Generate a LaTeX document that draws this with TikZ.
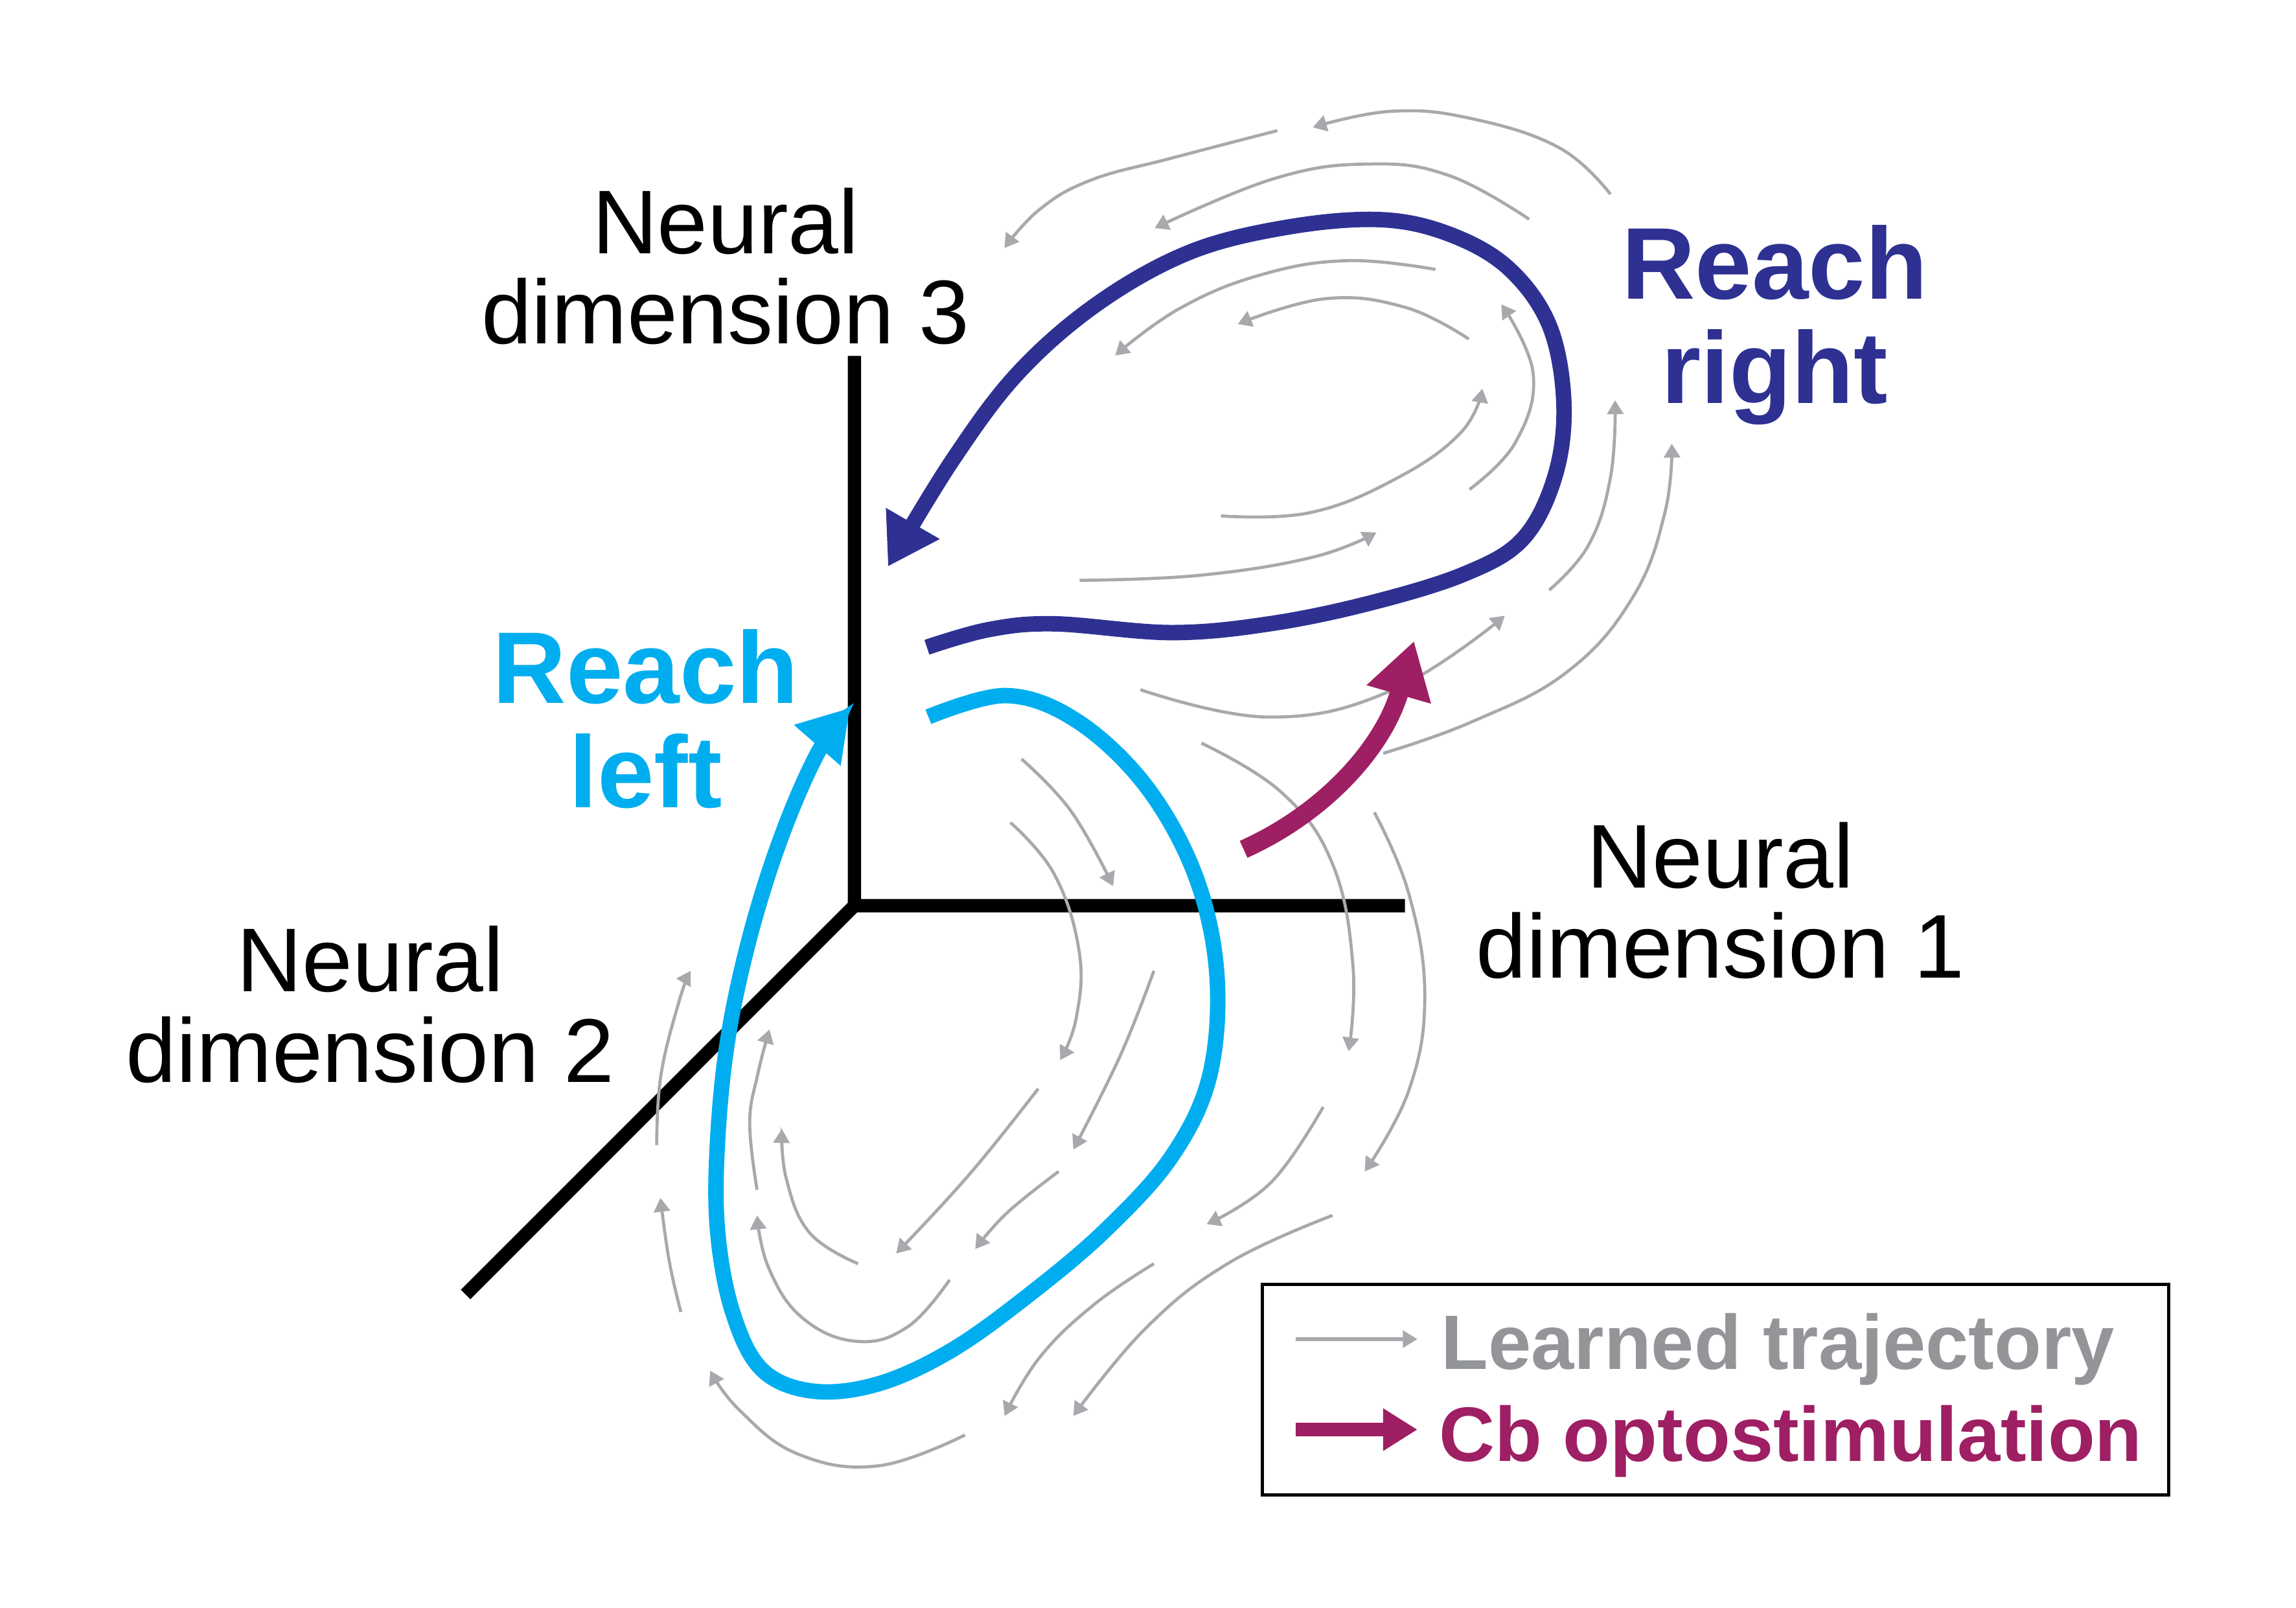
\documentclass[tikz,border=0pt]{standalone}
\usepackage{fontspec}
\setmainfont{Liberation Sans}
\usetikzlibrary{arrows.meta}
\definecolor{rightblue}{RGB}{46,49,146}
\definecolor{leftcyan}{RGB}{0,174,239}
\definecolor{cbpurple}{RGB}{158,31,99}
\definecolor{trajgray}{RGB}{167,169,172}
\definecolor{keygray}{RGB}{147,149,152}

\begin{document}
\begin{tikzpicture}[x=0.1mm,y=-0.1mm,
		dimtext/.style={align=center,inner sep=0pt,font=\fontsize{17.6}{17.5}\selectfont},
		reachtext/.style={align=center,inner sep=0pt,font=\bfseries\fontsize{19.8}{20.2}\selectfont},
		keytext/.style={anchor=base west,inner sep=0pt,font=\bfseries\fontsize{15}{15}\selectfont},
		axisline/.style={line width=2.6pt},
		learned/.style={trajgray,line width=0.6pt,-{Triangle[length=0.95mm,width=1.1mm]}},
		reach/.style={line width=3pt,-{Triangle[length=3.4mm,width=4mm]}},
		stim/.style={cbpurple,line width=3.6pt,-{Triangle[length=3.8mm,width=4.3mm]}}]
	\useasboundingbox (0,0) rectangle (1568,1098);
	% axes
	\coordinate (O) at (583.5,618.5);
	\coordinate (ax1) at (959.5,618.5);
	\coordinate (ax2) at (318,884);
	\coordinate (ax3) at (583.5,243);
	\draw[axisline] (ax3) -- (O) -- (ax1) (O) -- (ax2);
	% learned trajectories, upper lobe
	\draw[learned] plot[smooth,tension=0.7] coordinates {(1099.8,132.6) (1065,101) (1005,81) (950,76) (896.5,87)};
	\draw[learned] plot[smooth,tension=0.7] coordinates {(872.3,89.2) (800,108) (745,123) (710,143) (686,169.4)};
	\draw[learned] plot[smooth,tension=0.7] coordinates {(1044.3,149.7) (990,120) (935,112) (870,122) (788.5,155.8)};
	\draw[learned] plot[smooth,tension=0.7] coordinates {(980.3,184) (920,178) (860,188) (805,211) (761.5,242.8)};
	\draw[learned] plot[smooth,tension=0.7] coordinates {(1003,231.5) (960,210) (905,204) (845.3,221.3)};
	\draw[learned] plot[smooth,tension=0.7] coordinates {(833.8,352.3) (895,350) (955,326) (998,295) (1012.3,265.4)};
	\draw[learned] plot[smooth,tension=0.7] coordinates {(1003.6,334.2) (1035,302) (1047,255) (1025.3,207.8)};
	\draw[learned] plot[smooth,tension=0.7] coordinates {(737.3,396.3) (818.9,392.9) (896.5,380.5) (940,363.6)};
	\draw[learned] plot[smooth,tension=0.7] coordinates {(1058,403) (1085,372) (1100,325) (1103,273.3)};
	\draw[learned] plot[smooth,tension=0.7] coordinates {(778.8,471) (866.9,489.7) (951.5,471) (1027.7,420.5)};
	\draw[learned] plot[smooth,tension=0.7] coordinates {(944.7,514.4) (1005,493) (1070,459) (1115,408) (1137,350) (1141.7,303)};
	% learned trajectories, lower lobe
	\draw[learned] plot[smooth,tension=0.7] coordinates {(820.5,507.5) (875,541) (910,590) (924,660) (921,718)};
	\draw[learned] plot[smooth,tension=0.7] coordinates {(938.6,554.8) (962,610) (973,680) (962,745) (932,800)};
	\draw[learned] plot[smooth,tension=0.7] coordinates {(690,561.7) (720,597) (737,650) (735,695) (724,724)};
	\draw[learned] plot[smooth,tension=0.7] coordinates {(697.6,518.3) (731.4,553.9) (760.2,605.2)};
	\draw[learned] plot[smooth,tension=0.7] coordinates {(788,663) (765,721) (733,785)};
	\draw[learned] plot[smooth,tension=0.7] coordinates {(709,743.5) (662,802) (612,856)};
	\draw[learned] plot[smooth,tension=0.7] coordinates {(723,800) (688,828) (666,853)};
	\draw[learned] plot[smooth,tension=0.7] coordinates {(903.6,756) (868,807.5) (824,836)};
	\draw[learned] plot[smooth,tension=0.7] coordinates {(910,830) (840,862) (783,906.5) (733,967)};
	\draw[learned] plot[smooth,tension=0.7] coordinates {(788,863) (747,891) (710,927) (686,967)};
	\draw[learned] plot[smooth,tension=0.7] coordinates {(659,980) (600,1001) (545,993) (505,963) (485,936)};
	\draw[learned] plot[smooth,tension=0.7] coordinates {(648.5,874) (620,906) (585,916) (548,900) (525,866) (517,830)};
	\draw[learned] plot[smooth,tension=0.7] coordinates {(586,863) (553,842) (537,805) (534,771)};
	\draw[learned] plot[smooth,tension=0.7] coordinates {(517,812.5) (512,767) (517.4,734) (525.5,703)};
	\draw[learned] plot[smooth,tension=0.7] coordinates {(465,896) (457,861) (451,818)};
	\draw[learned] plot[smooth,tension=0.7] coordinates {(448.5,782) (451.4,734) (464,683) (471.6,663)};
	% reach left
	\draw[reach,leftcyan] plot[smooth,tension=0.6] coordinates {(634,489.5) (687,475) (735,492) (782,536) (816,597) (831,665) (826,735) (800,790) (755,840) (703,884) (650,922) (600,945) (555,950) (520,935) (500,895) (490,840) (490,780) (497,710) (512,640) (533,573) (558,515) (580.5,483.4)};
	% reach right
	\draw[reach,rightblue] plot[smooth,tension=0.6] coordinates {(633,442) (675,430) (720,426) (800,432) (867,426) (935,412) (1000,392) (1040,368) (1062,325) (1068,275) (1058,222) (1030,183) (990,160) (943,150) (880,155) (813,172) (750,207) (695,255) (650,315) (606.4,386.9)};
	% optostimulation kick
	\draw[stim] (849.3,580) .. controls (905,555) and (945,510) .. (965.7,437.7);
	% labels
	\node[dimtext] (dim3) at (495.5,182) {Neural\\dimension 3};
	\node[dimtext] (dim1) at (1175,615) {Neural\\dimension 1};
	\node[dimtext] (dim2) at (253,686) {Neural\\dimension 2};
	\node[reachtext,leftcyan] (reachleft) at (441,491) {Reach\\left};
	\node[reachtext,rightblue] (reachright) at (1212,222) {Reach\\right};
	% legend
	\coordinate (keyNW) at (862,877);
	\coordinate (keySE) at (1481,1021);
	\draw[line width=0.6pt] (keyNW) rectangle (keySE);
	\node[keytext,keygray] (keylearned) at (983.5,935) {Learned trajectory};
	\node[keytext,cbpurple] (keystim) at (982,997.7) {Cb optostimulation};
	\coordinate (kl0) at (885,914.5);
	\coordinate (kl1) at (968,914.5);
	\coordinate (ks0) at (885,976.3);
	\coordinate (ks1) at (968,976.3);
	\draw[learned,line width=0.7pt,-{Triangle[length=1mm,width=1.15mm]}] (kl0) -- (kl1);
	\draw[cbpurple,line width=2.6pt,-{Triangle[length=2.35mm,width=2.75mm]}] (ks0) -- (ks1);
\end{tikzpicture}
\end{document}
